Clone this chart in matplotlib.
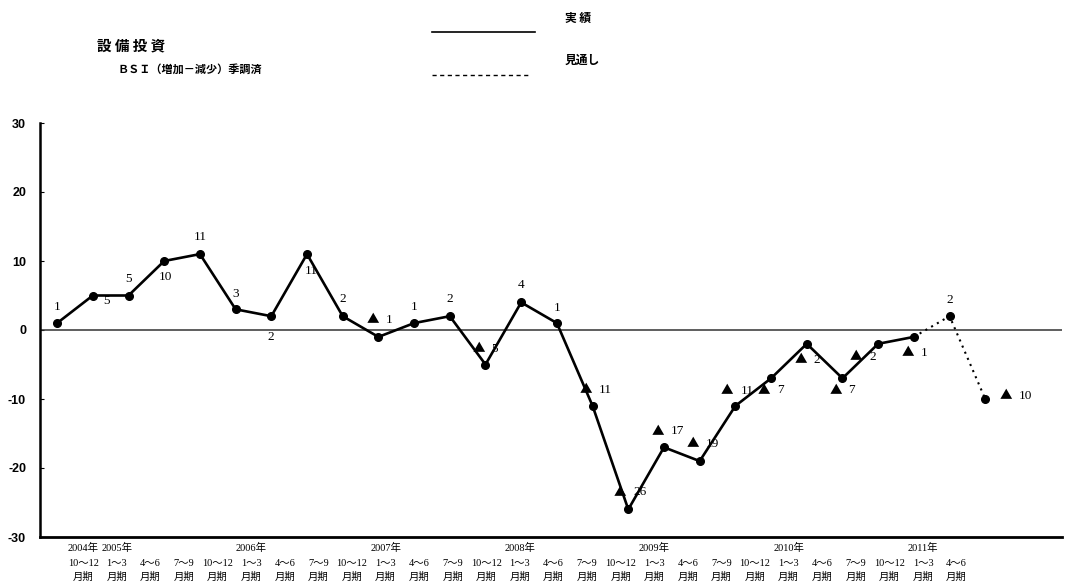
import matplotlib
matplotlib.use("Agg")
import matplotlib.pyplot as plt

plt.rcParams["axes.unicode_minus"] = False

SERIF = ["Liberation Serif", "Noto Sans CJK JP", "DejaVu Sans"]
GOTHIC = ["Noto Sans CJK JP", "DejaVu Sans"]

# 設備投資 BSI（増加－減少）季調済, 2004年10～12月期 .. 2011年4～6月期
years = ["2004年", "2005年", "", "", "", "2006年", "", "", "", "2007年", "", "", "",
         "2008年", "", "", "", "2009年", "", "", "", "2010年", "", "", "", "2011年", ""]
quarters = ["10～12", "1～3", "4～6", "7～9", "10～12", "1～3", "4～6", "7～9", "10～12",
            "1～3", "4～6", "7～9", "10～12", "1～3", "4～6", "7～9", "10～12",
            "1～3", "4～6", "7～9", "10～12", "1～3", "4～6", "7～9", "10～12",
            "1～3", "4～6"]
bsi = [1, 5, 5, 10, 11, 3, 2, 11, 2, -1, 1, 2, -5, 4, 1, -11, -26,
       -17, -19, -11, -7, -2, -7, -2, -1, 2, -10]
n_actual = 25  # last two quarters are 見通し

# where each value label sits relative to its dot (pixels)
label_off = [(0, 16), (14, -6), (0, 17), (1, -16), (0, 17), (0, 15), (-1, -21),
             (4, -17), (0, 17), (2, 17), (0, 16), (0, 17), (1, 16), (0, 17),
             (0, 15), (1, 16), (0, 17), (2, 16), (1, 17), (0, 15), (1, -12),
             (2, -16), (1, -12), (-14, -13), (2, -16), (0, 16), (29, 3)]

W, H = 1065, 587
fig = plt.figure(figsize=(W / 100, H / 100), dpi=100)
ax = fig.add_axes([40 / W, 1 - 537 / H, (1062 - 40) / W, (537 - 123) / H])

xs = list(range(len(bsi)))
ax.plot(xs[:n_actual], bsi[:n_actual], color="black", lw=1.9, zorder=3)
ax.plot(xs[n_actual - 1:], bsi[n_actual - 1:], color="black", lw=1.5,
        ls=(0, (1, 2.2)), zorder=3)
ax.plot(xs, bsi, ls="none", marker="o", ms=5.5, color="black", zorder=4)

# value labels; negatives are written with ▲
for x, v, (dx, dy) in zip(xs, bsi, label_off):
    if v < 0:
        ax.annotate("▲", (x, v), xytext=(dx - 8, dy), textcoords="offset pixels",
                    ha="center", va="center", fontsize=9, family=GOTHIC, zorder=5)
        ax.annotate(f"{abs(v)}", (x, v), xytext=(dx + 5, dy), textcoords="offset pixels",
                    ha="left", va="center", fontsize=9.5, family=SERIF, zorder=5)
    else:
        ax.annotate(f"{v}", (x, v), xytext=(dx, dy), textcoords="offset pixels",
                    ha="center", va="center", fontsize=9.5, family=SERIF, zorder=5)

ax.axhline(0, color="#333333", lw=1.1, zorder=2)

ax.set_ylim(-30, 30)
ax.set_xlim(-0.48, 28.15)
ax.set_yticks(range(-30, 31, 10))
for t in ax.get_yticklabels():
    t.set_fontweight("bold")
    t.set_family(["Liberation Sans", "DejaVu Sans"])
ax.tick_params(axis="y", direction="in", length=3, width=0.8, pad=10, labelsize=9)

# quarter labels along the bottom: 年 / 期間 / 月期
ax.set_xticks([])
trans = ax.get_xaxis_transform()
for i, (y, q) in enumerate(zip(years, quarters)):
    lx = 0.73 + 0.941 * i
    for row, s in zip((-0.027, -0.063, -0.097), (y, q, "月期")):
        if s:
            ax.text(lx, row, s, transform=trans, ha="center", va="center",
                    fontsize=7.5, family=SERIF, clip_on=False)

for side in ("top", "right"):
    ax.spines[side].set_visible(False)
ax.spines["left"].set_linewidth(1.8)
ax.spines["bottom"].set_linewidth(2.0)

# header and legend
fig.text(97 / W, 1 - 45 / H, "設 備 投 資", fontsize=10.5, fontweight="bold",
         family=GOTHIC, ha="left", va="center")
fig.text(118 / W, 1 - 69 / H, "ＢＳＩ（増加－減少）季調済", fontsize=8,
         fontweight="bold", family=GOTHIC, ha="left", va="center")
fig.add_artist(plt.Line2D([432 / W, 535 / W], [1 - 32 / H] * 2, color="black", lw=1.2))
fig.add_artist(plt.Line2D([432 / W, 530 / W], [1 - 75 / H] * 2, color="black", lw=1.0,
                          ls=(0, (3, 2.5))))
fig.text(565 / W, 1 - 18 / H, "実 績", fontsize=8.5, fontweight="bold",
         family=GOTHIC, ha="left", va="center")
fig.text(565 / W, 1 - 60 / H, "見通し", fontsize=8.5, fontweight="bold",
         family=GOTHIC, ha="left", va="center")

fig.savefig("out.png", dpi=100, facecolor="white")
